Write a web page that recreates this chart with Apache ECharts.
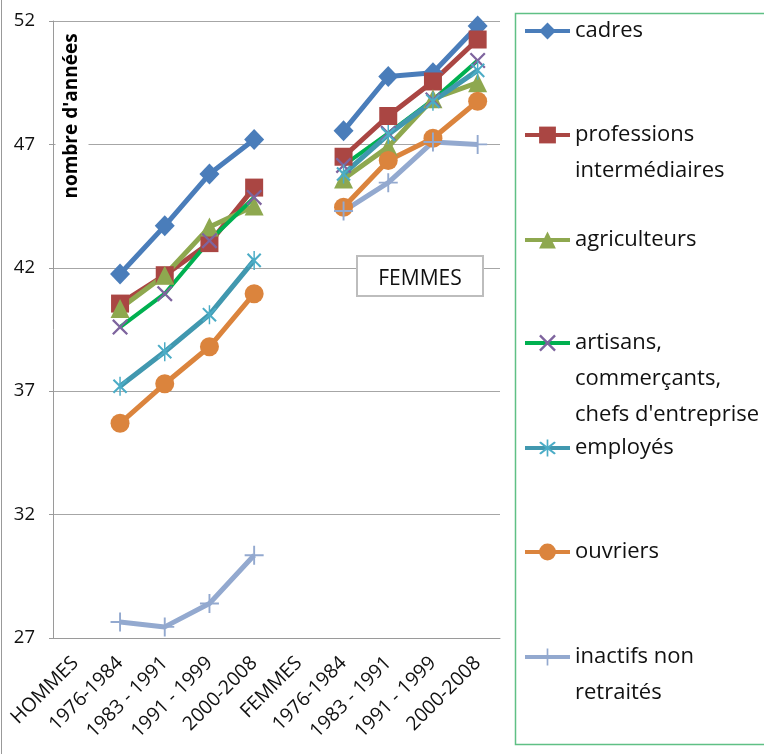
<!DOCTYPE html>
<html>
<head>
<meta charset="utf-8">
<script src="https://cdn.jsdelivr.net/npm/echarts@6/dist/echarts.min.js"></script>
<style>
html,body{margin:0;padding:0;background:#fff;}
#main{width:764px;height:754px;}
</style>
</head>
<body>
<div id="main"></div>
<script>
var categories = ['HOMMES', '1976-1984', '1983 - 1991', '1991 - 1999', '2000-2008', 'FEMMES', '1976-1984 ', '1983 - 1991 ', '1991 - 1999 ', '2000-2008 '];
var yTicks = [27, 32, 37, 42, 47, 52];
var seriesNames = ['cadres', 'professions intermédiaires', 'agriculteurs', "artisans, commerçants, chefs d'entreprise", 'employés', 'ouvriers', 'inactifs non retraités'];
var legendLabels = ['cadres', '\nprofessions\nintermédiaires', 'agriculteurs', "\n\nartisans,\ncommerçants,\nchefs d'entreprise", 'employés', 'ouvriers', '\ninactifs non\nretraités'];
var cadres = [null, 41.75, 43.7, 45.8, 47.2, null, 47.55, 49.75, 49.9, 51.8];
var professions = [null, 40.55, 41.7, 43.0, 45.25, null, 46.5, 48.15, 49.55, 51.25];
var agriculteurs = [null, 40.35, 41.7, 43.65, 44.5, null, 45.6, 46.9, 48.85, 49.5];
var artisans = [null, 39.6, 40.95, 43.1, 44.85, null, 46.15, 47.45, 48.8, 50.4];
var employes = [null, 37.2, 38.6, 40.1, 42.3, null, 45.8, 47.4, 48.75, 50.0];
var ouvriers = [null, 35.7, 37.3, 38.8, 40.95, null, 44.45, 46.35, 47.25, 48.75];
var inactifs = [null, 27.65, 27.45, 28.4, 30.35, null, 44.3, 45.45, 47.1, 47.0];
var axisTitle = "nombre d'années";
var boxLabel = 'FEMMES';

var FONT = '"Open Sans", "Noto Sans", sans-serif';
var xPath = 'path://M0,1L1,0L5,4L9,0L10,1L6,5L10,9L9,10L5,6L1,10L0,9L4,5Z';
var starPath = 'path://M0,1L1,0L5,4L9,0L10,1L6,5L10,9L9,10L5,6L1,10L0,9L4,5Z M4.5,-1.5L5.5,-1.5L5.5,11.5L4.5,11.5Z';
var plusPath = 'path://M4.5,0L5.5,0L5.5,4.5L10,4.5L10,5.5L5.5,5.5L5.5,10L4.5,10L4.5,5.5L0,5.5L0,4.5L4.5,4.5Z';

var styles = [
  {line: '#4A7DBA', mark: '#4A7DBA', symbol: 'diamond', size: [20, 21], w: 5},
  {line: '#AA4643', mark: '#AA4643', symbol: 'rect', size: 18, w: 5},
  {line: '#8EA84F', mark: '#8EA84F', symbol: 'triangle', size: 19, w: 5},
  {line: '#00B050', mark: '#7E649E', symbol: xPath, size: 16, w: 4},
  {line: '#4198AF', mark: '#4BACC6', symbol: starPath, size: 19, w: 5},
  {line: '#DB843D', mark: '#DB843D', symbol: 'circle', size: 19, w: 5},
  {line: '#93A9CF', mark: '#93A9CF', symbol: plusPath, size: 19, w: 5}
];
var dataSets = [cadres, professions, agriculteurs, artisans, employes, ouvriers, inactifs];
var legendCenters = [31, 135, 240, 343, 448, 552, 657];
var LH = 36;

var series = dataSets.map(function (d, i) {
  var s = styles[i];
  return {
    name: seriesNames[i],
    type: 'line',
    data: d,
    symbol: s.symbol,
    symbolSize: s.size,
    symbolKeepAspect: true,
    connectNulls: false,
    lineStyle: {color: s.line, width: s.w},
    itemStyle: {color: s.mark},
    emphasis: {disabled: true},
    animation: false
  };
});

var legends = seriesNames.map(function (n, i) {
  var lines = legendLabels[i].split('\n').length;
  var h = lines * LH;
  return {
    data: [n],
    left: 523,
    top: legendCenters[i] - h / 2,
    orient: 'vertical',
    itemWidth: 45,
    itemHeight: 21,
    padding: 0,
    selectedMode: false,
    lineStyle: {width: 4},
    formatter: function () { return legendLabels[i]; },
    textStyle: {fontFamily: FONT, fontSize: 22, lineHeight: LH, color: '#111'}
  };
});

var chart = echarts.init(document.getElementById('main'), null, {renderer: 'canvas'});
chart.setOption({
  backgroundColor: '#fff',
  animation: false,
  grid: {left: 53, right: 264, top: 21, bottom: 116, containLabel: false},
  legend: legends,
  xAxis: {
    type: 'category',
    data: categories,
    boundaryGap: true,
    axisLine: {lineStyle: {color: '#9a9a9a', width: 1}},
    axisTick: {show: false},
    axisLabel: {rotate: 45, interval: 0, margin: 22, fontFamily: FONT, fontSize: 19.5, color: '#111',
      formatter: function (v) { return v.trim(); }}
  },
  yAxis: {
    type: 'value',
    min: yTicks[0],
    max: yTicks[yTicks.length - 1],
    interval: 5,
    axisLine: {show: true, lineStyle: {color: '#9a9a9a', width: 1}},
    axisTick: {show: true, length: 4, lineStyle: {color: '#9a9a9a'}},
    axisLabel: {margin: 18, fontFamily: FONT, fontSize: 18.5, color: '#111'},
    splitLine: {lineStyle: {color: '#a6a6a6', width: 1}}
  },
  graphic: [
    {type: 'line', shape: {x1: 1.5, y1: 0, x2: 1.5, y2: 754}, style: {stroke: '#999', lineWidth: 1}, z: 100},
    {type: 'rect', shape: {x: 515.5, y: 13.5, width: 300, height: 731}, style: {fill: 'none', stroke: '#5FC085', lineWidth: 1.5}, z: 100},
    {type: 'rect', shape: {x: 357, y: 256, width: 126, height: 40}, style: {fill: '#fff', stroke: '#bdbdbd', lineWidth: 2}, z: 100},
    {type: 'text', x: 420, y: 279, style: {text: boxLabel, align: 'center', verticalAlign: 'middle', font: '21px ' + FONT, fill: '#111'}, z: 101},
    {type: 'text', x: 72, y: 116, rotation: Math.PI / 2,
      style: {text: axisTitle, align: 'center', verticalAlign: 'middle', font: 'bold 19px ' + FONT, fill: '#000',
        backgroundColor: '#fff', padding: [7, 6]}, z: 100}
  ],
  series: series
});
</script>
</body>
</html>
